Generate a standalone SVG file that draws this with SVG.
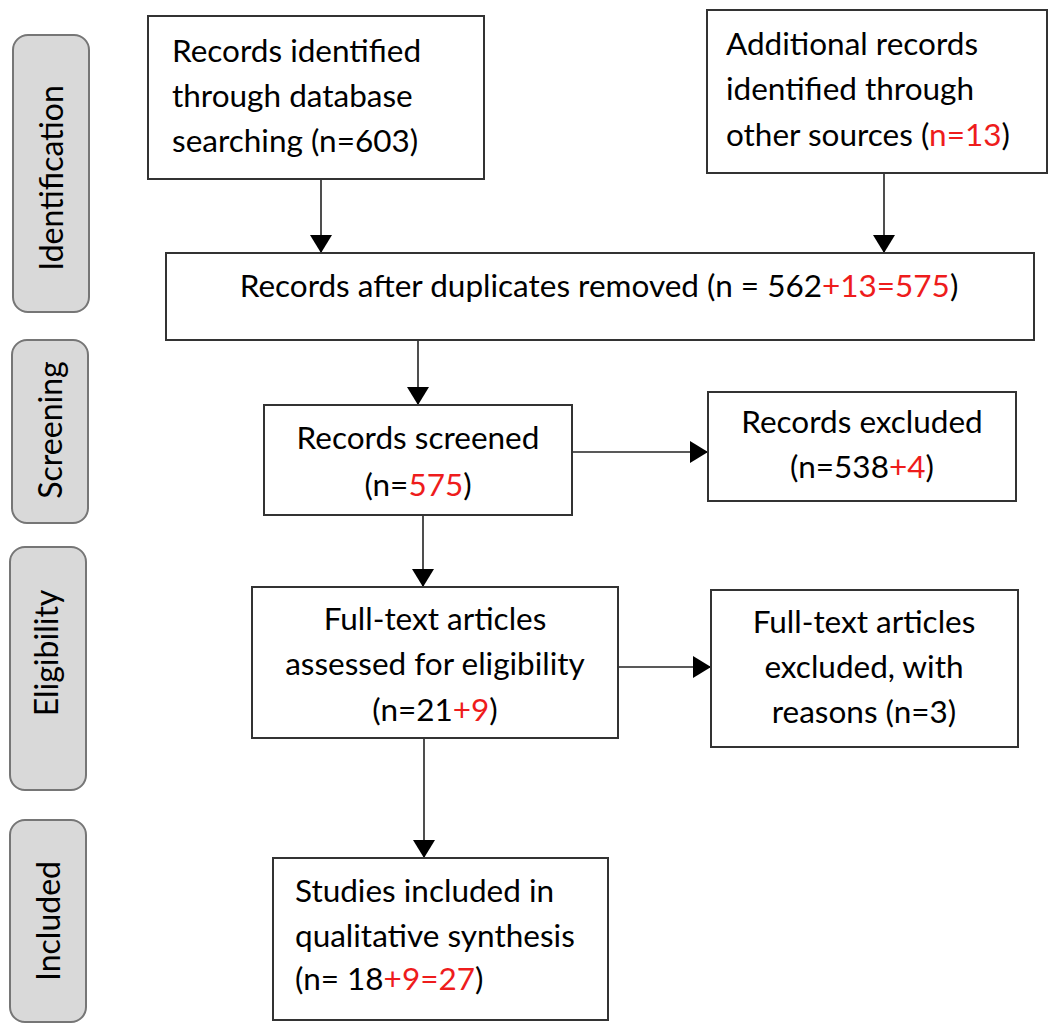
<svg xmlns="http://www.w3.org/2000/svg" width="1052" height="1025" viewBox="0 0 1052 1025">
<defs>
<style>
.side{fill:#d9d9d9;stroke:#767676;stroke-width:2}
.box{fill:#ffffff;stroke:#333333;stroke-width:2}
.t{font-family:Lato,"Open Sans","Liberation Sans",sans-serif;font-size:31.5px;fill:#000000}
.c{text-anchor:middle}
.r{fill:#ee1c1c}
.st{font-family:Lato,"Open Sans","Liberation Sans",sans-serif;font-size:32px;fill:#000000;text-anchor:middle}
.conn{stroke:#222222;stroke-width:1.6;fill:none;marker-end:url(#ah)}
</style>
<marker id="ah" markerUnits="userSpaceOnUse" markerWidth="20" markerHeight="22" refX="18" refY="11" orient="auto">
<path d="M0,0 L18,11 L0,22 Z" fill="#000000"/>
</marker>
</defs>
<rect width="1052" height="1025" fill="#ffffff"/>

<g id="stage-identification">
<rect class="side" x="13" y="35" width="76" height="277" rx="15"/>
<text class="st" transform="translate(63,178) rotate(-90)">Identification</text>
</g>
<g id="stage-screening">
<rect class="side" x="12" y="340" width="76" height="183" rx="15"/>
<text class="st" transform="translate(62,430) rotate(-90)">Screening</text>
</g>
<g id="stage-eligibility">
<rect class="side" x="10" y="547" width="76" height="243" rx="15"/>
<text class="st" transform="translate(58,653) rotate(-90)">Eligibility</text>
</g>
<g id="stage-included">
<rect class="side" x="10" y="820" width="76" height="202" rx="15"/>
<text class="st" transform="translate(60,921) rotate(-90)">Included</text>
</g>

<g id="connectors">
<line class="conn" x1="321" y1="179" x2="321" y2="253"/>
<line class="conn" x1="884" y1="173" x2="884" y2="253"/>
<line class="conn" x1="418" y1="340" x2="418" y2="405"/>
<line class="conn" x1="572" y1="452" x2="708" y2="452"/>
<line class="conn" x1="423" y1="515" x2="423" y2="587"/>
<line class="conn" x1="618" y1="667" x2="711" y2="667"/>
<line class="conn" x1="424" y1="738" x2="424" y2="858"/>
</g>

<g id="n-database">
<rect class="box" x="148" y="16" width="336" height="163"/>
<text class="t" x="172" y="62">Records identified</text>
<text class="t" x="172" y="107">through database</text>
<text class="t" x="172" y="152">searching (n=603)</text>
</g>

<g id="n-other">
<rect class="box" x="707" y="10" width="340" height="163"/>
<text class="t" x="726" y="55">Additional records</text>
<text class="t" x="726" y="100">identified through</text>
<text class="t" x="726" y="146">other sources (<tspan class="r">n=13</tspan>)</text>
</g>

<g id="n-duplicates">
<rect class="box" x="166" y="253" width="868" height="87"/>
<text class="t c" x="599" y="297">Records after duplicates removed (n = 562<tspan class="r">+13=575</tspan>)</text>
</g>

<g id="n-screened">
<rect class="box" x="264" y="405" width="308" height="110"/>
<text class="t c" x="418" y="449">Records screened</text>
<text class="t c" x="418" y="496">(n=<tspan class="r">575</tspan>)</text>
</g>

<g id="n-excluded">
<rect class="box" x="708" y="392" width="308" height="109"/>
<text class="t c" x="862" y="433">Records excluded</text>
<text class="t c" x="862" y="478">(n=538<tspan class="r">+4</tspan>)</text>
</g>

<g id="n-fulltext">
<rect class="box" x="252" y="587" width="366" height="151"/>
<text class="t c" x="435" y="630">Full-text articles</text>
<text class="t c" x="435" y="675">assessed for eligibility</text>
<text class="t c" x="435" y="721">(n=21<tspan class="r">+9</tspan>)</text>
</g>

<g id="n-fulltext-excluded">
<rect class="box" x="711" y="590" width="307" height="157"/>
<text class="t c" x="864" y="633">Full-text articles</text>
<text class="t c" x="864" y="678">excluded, with</text>
<text class="t c" x="864" y="723">reasons (n=3)</text>
</g>

<g id="n-included">
<rect class="box" x="273" y="858" width="335" height="162"/>
<text class="t" x="295" y="902">Studies included in</text>
<text class="t" x="295" y="947">qualitative synthesis</text>
<text class="t" x="295" y="990">(n= 18<tspan class="r">+9=27</tspan>)</text>
</g>
</svg>
